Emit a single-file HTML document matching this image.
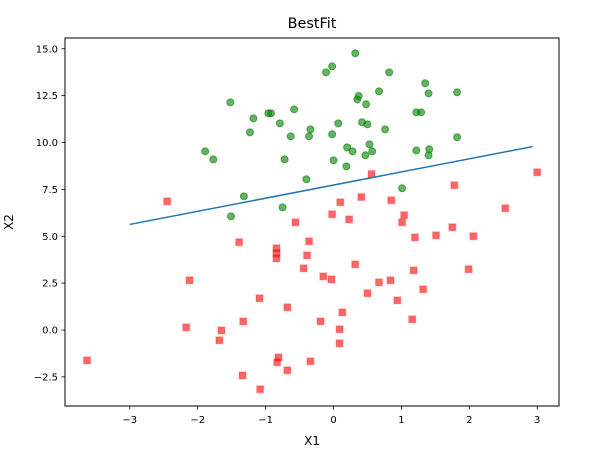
<!DOCTYPE html>
<html><head><meta charset="utf-8"><style>
body{margin:0;background:#fff}
svg text{font-family:"DejaVu Sans","Liberation Sans",sans-serif;fill:#000}
</style></head><body>
<svg id="chart" width="600" height="455" xmlns="http://www.w3.org/2000/svg">
<rect width="600" height="455" fill="#fff"/>
<text x="312" y="28" font-size="14.4" text-anchor="middle">BestFit</text>
<text x="312" y="445" font-size="12" text-anchor="middle">X1</text>
<text x="13" y="222" font-size="12" text-anchor="middle" transform="rotate(-90 13 222)">X2</text>
<g id="marks"></g>
<rect x="65" y="38" width="494" height="368" fill="none" stroke="#000" stroke-width="1"/>
<g id="axes"></g>
</svg>
<script>
const xTicks=[-3,-2,-1,0,1,2,3];
const xTickLabels=["−3","−2","−1","0","1","2","3"];
const yTicks=[-2.5,0,2.5,5,7.5,10,12.5,15];
const yTickLabels=["−2.5","0.0","2.5","5.0","7.5","10.0","12.5","15.0"];
const greenX=[-1.52,-1.18,-0.96,-0.92,-0.58,-0.79,-1.23,-0.34,-0.63,-0.36,-1.89,-1.77,-0.72,-0.40,-1.32,-0.75,-1.51,0.32,-0.02,-0.11,0.82,1.35,1.40,1.82,0.67,0.37,0.35,0.48,1.22,1.29,0.07,0.42,0.50,0.76,-0.02,1.82,0.53,0.20,0.28,0.57,0.47,1.22,1.41,1.40,0.00,0.19,1.01];
const greenY=[12.14,11.29,11.56,11.56,11.77,11.02,10.54,10.70,10.33,10.33,9.53,9.10,9.10,8.04,7.13,6.54,6.06,14.76,14.06,13.74,13.74,13.16,12.62,12.68,12.73,12.48,12.30,12.04,11.61,11.61,11.02,11.08,10.97,10.70,10.44,10.28,9.90,9.74,9.53,9.53,9.32,9.58,9.64,9.32,9.05,8.73,7.56];
const redX=[-2.45,-0.56,-1.39,-0.36,-0.84,-0.84,-0.84,-0.39,-0.44,-2.12,-1.09,-0.68,-1.33,-2.17,-1.65,-1.68,-3.63,-0.81,-0.83,-0.34,-0.68,-1.34,-1.08,-0.19,-0.15,0.56,3.00,1.78,0.41,0.10,0.85,2.53,-0.02,0.23,1.04,1.01,1.20,1.51,1.75,2.06,0.32,1.18,1.99,-0.03,0.67,0.84,0.50,1.32,0.94,0.13,1.16,0.09,0.09];
const redY=[6.86,5.74,4.68,4.73,4.36,4.09,3.82,3.98,3.29,2.65,1.69,1.21,0.46,0.14,-0.02,-0.55,-1.62,-1.46,-1.72,-1.67,-2.15,-2.42,-3.16,0.46,2.86,8.32,8.41,7.72,7.09,6.81,6.92,6.49,6.17,5.90,6.12,5.74,4.94,5.05,5.48,5.00,3.50,3.18,3.24,2.70,2.54,2.65,1.96,2.17,1.58,0.94,0.57,0.04,-0.71];
const lineX=[-3,2.93];
const lineY=[5.63,9.78];

const NS="http://www.w3.org/2000/svg";
const sx=v=>333.5+67.9*v;
const sy=v=>330-18.75*v;
function mk(t,a,p){const e=document.createElementNS(NS,t);for(const k in a)e.setAttribute(k,a[k]);p.appendChild(e);return e;}
const marks=document.getElementById('marks'),axes=document.getElementById('axes');
for(let i=0;i<redX.length;i++){
  const e=mk('rect',{x:sx(redX[i])-3.5,y:sy(redY[i])-3.5,width:7,height:7,fill:'rgba(255,0,0,0.6)',stroke:'rgba(255,0,0,0.15)','stroke-width':1.5},marks);
  
  
}
for(let i=0;i<greenX.length;i++){
  const e=mk('circle',{cx:sx(greenX[i]),cy:sy(greenY[i]),r:3.5,fill:'rgba(0,128,0,0.6)',stroke:'rgba(0,128,0,0.6)','stroke-width':1},marks);
  
  
}
const ln=mk('line',{x1:sx(lineX[0]),y1:sy(lineY[0]),x2:sx(lineX[1]),y2:sy(lineY[1]),stroke:'#1f77b4','stroke-width':1.5},marks);


xTicks.forEach((v,i)=>{
  const x=sx(v);
  const t=mk('line',{x1:x,y1:406,x2:x,y2:409.5,stroke:'#000','stroke-width':0.8},axes);
  
  
  const l=mk('text',{x:x,y:423,'font-size':10,'text-anchor':'middle'},axes);
  l.textContent=xTickLabels[i];
  
  
});
yTicks.forEach((v,i)=>{
  const y=sy(v);
  const t=mk('line',{x1:61.5,y1:y,x2:65,y2:y,stroke:'#000','stroke-width':0.8},axes);
  
  
  const l=mk('text',{x:58,y:y+3.6,'font-size':10,'text-anchor':'end'},axes);
  l.textContent=yTickLabels[i];
  
  
});
</script>
</body></html>
